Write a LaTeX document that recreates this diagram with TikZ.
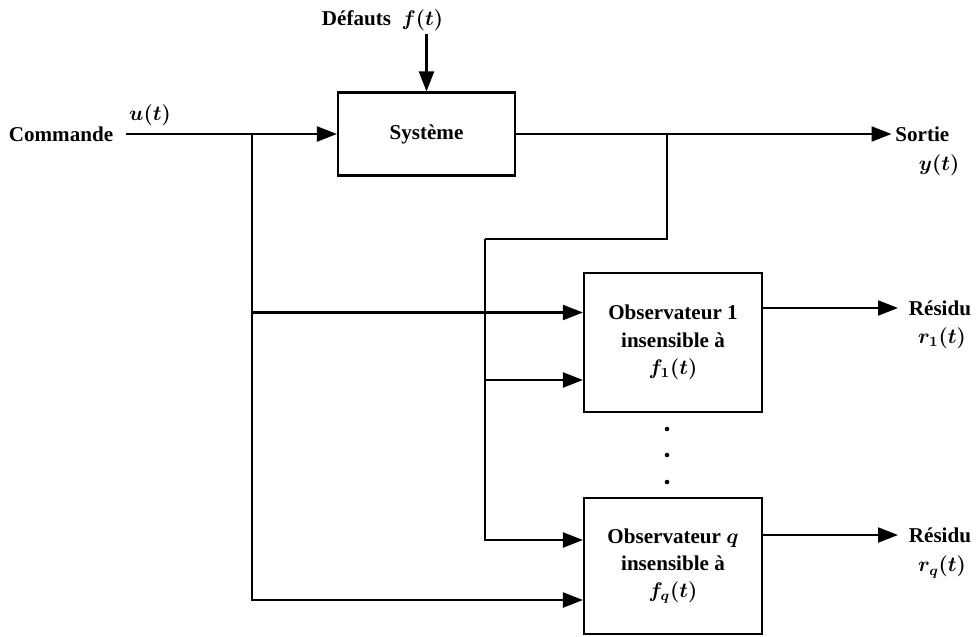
\documentclass[tikz,border=0pt]{standalone}
\usepackage{fontspec}
\setmainfont{Liberation Serif}
\usetikzlibrary{arrows.meta,positioning}
\tikzset{
  box/.style={draw, line width=1.2pt, align=center, inner sep=4pt},
  obsbox/.style={box, minimum width=3.56cm, minimum height=2.72cm},
  arr/.style={-{Triangle[length=4mm, width=3mm]}, line width=1.2pt},
  ln/.style={line width=1.2pt},
  lab/.style={inner sep=2pt},
  reslab/.style={lab, anchor=west, inner xsep=6pt},
}

\begin{document}
\begin{tikzpicture}[font=\fontsize{12}{15.5}\selectfont\bfseries\boldmath]
    \useasboundingbox (0,0) rectangle (19.58,-12.72);
    \node[box, minimum width=3.54cm, minimum height=1.66cm] (sys) at (8.53,-2.68) {Système};
    \node[obsbox, minimum height=2.78cm] (obs1) at (13.46,-6.85) {Observateur 1\\insensible à\\$f_1(t)$};
    \node[obsbox] (obsq) at (13.46,-11.32) {Observateur $q$\\insensible à\\$f_q(t)$};
    \node[lab, inner xsep=7pt] (cmd) at (1.22,-2.68) {Commande};
    \node[lab] (ut) at (3.0,-2.3) {$u(t)$};
    \node[lab] (def) at (7.65,-0.4) {Défauts \ $f(t)$};
    \node[lab, anchor=west] (out) at (17.83,-2.68) {Sortie};
    \node[lab] (yt) at (18.78,-3.3) {$y(t)$};
    \node[reslab] (res1) at (17.96,-6.16) {Résidu};
    \node[lab] (r1) at (18.84,-6.76) {$r_1(t)$};
    \node[reslab] (resq) at (17.96,-10.7) {Résidu};
    \node[lab] (rq) at (18.84,-11.34) {$r_q(t)$};
    \coordinate (ju) at (5.04,-2.68);
    \coordinate (jy) at (13.34,-2.68);
    \coordinate (jb) at (9.7,-4.78);
    % main path
    \draw[arr] (cmd.east) -- (sys.west);
    \draw[arr] (sys.north|-def.south) -- (sys.north);
    \draw[arr] (sys.east) -- (out.west);
    % command branch
    \draw[arr] (ju) |- ([yshift=0.6cm]obs1.west);
    \draw[arr] (ju) |- ([yshift=-0.68cm]obsq.west);
    % output branch
    \draw[ln] (jy) |- (jb);
    \draw[arr] (jb) |- ([yshift=-0.75cm]obs1.west);
    \draw[arr] (jb) |- ([yshift=0.52cm]obsq.west);
    % residuals
    \draw[arr] (obs1.east|-res1) -- (res1.west);
    \draw[arr] (obsq.east|-resq) -- (resq.west);
    \foreach \y in {-8.58,-9.1,-9.64} \fill (13.34,\y) circle (1.3pt);
  \end{tikzpicture}
\end{document}
